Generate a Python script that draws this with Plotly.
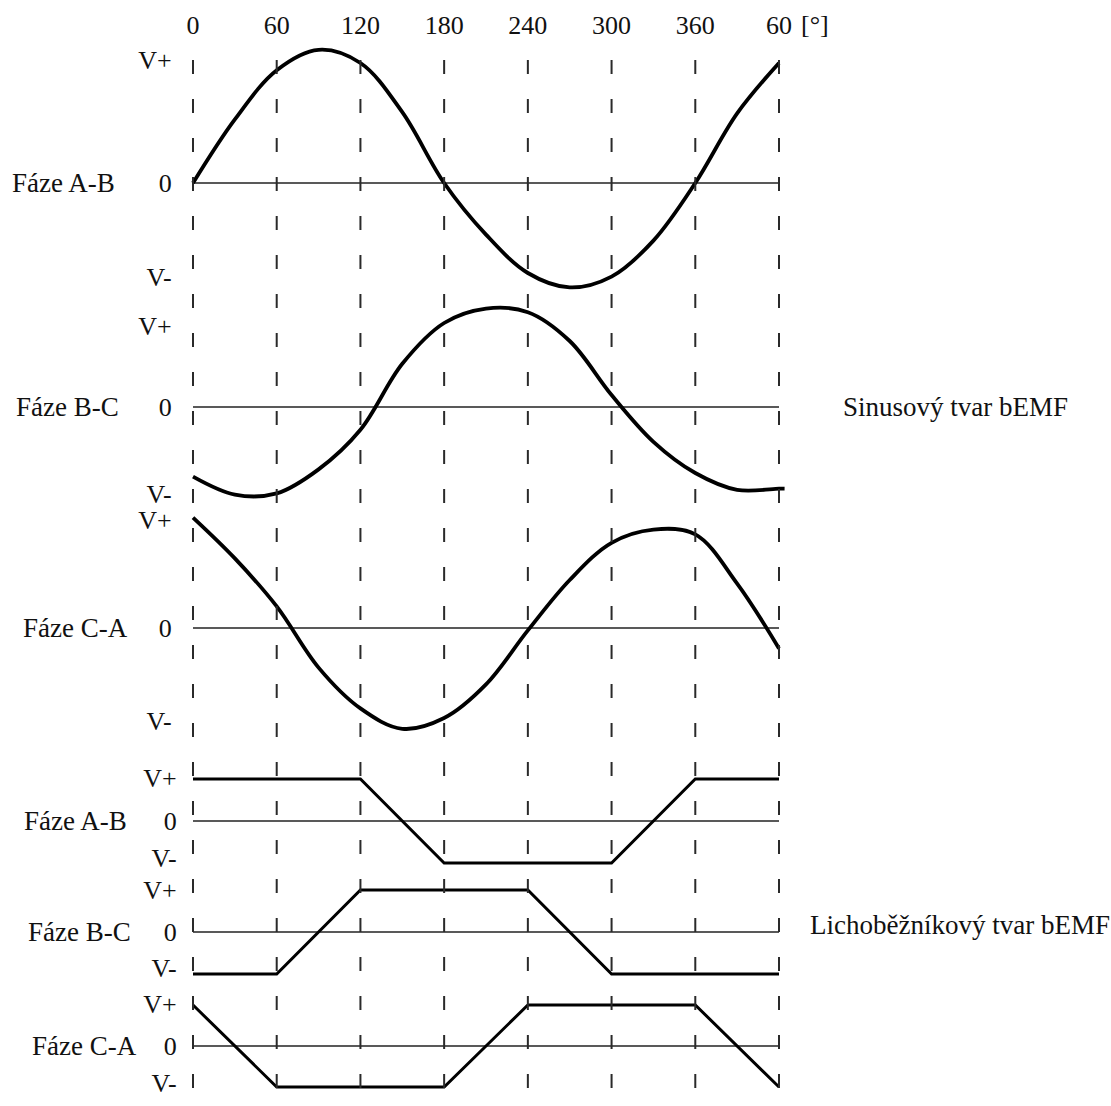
import plotly.graph_objects as go

# ---- data -------------------------------------------------------------
# electrical angle of each sample [deg]; the sweep runs over one turn plus 60 deg
ANGLE = [0, 30, 60, 90, 120, 150, 180, 210, 240, 270, 300, 330, 360, 390, 420]

# sinusoidal back-EMF, line-to-line (relative amplitude)
SIN_AB = [0.0, 0.53, 0.94, 1.11, 1.0, 0.59, 0.0, -0.43, -0.75, -0.87, -0.78, -0.48, 0.0, 0.58, 1.0]
SIN_BC = [-0.58, -0.73, -0.72, -0.52, -0.19, 0.36, 0.70, 0.82, 0.79, 0.55, 0.10, -0.29, -0.55, -0.69, -0.68]
SIN_CA = [0.92, 0.58, 0.18, -0.33, -0.67, -0.84, -0.75, -0.47, -0.02, 0.40, 0.71, 0.82, 0.78, 0.37, -0.17]
BC_TAIL_ANGLE = 424
BC_TAIL_VALUE = -0.68

# trapezoidal back-EMF: corner angles and levels (+1 = V+, -1 = V-)
TRAP_AB_ANGLE = [0, 120, 180, 300, 360, 420]
TRAP_AB = [1, 1, -1, -1, 1, 1]
TRAP_BC_ANGLE = [0, 60, 120, 240, 300, 420]
TRAP_BC = [-1, -1, 1, 1, -1, -1]
TRAP_CA_ANGLE = [0, 60, 180, 240, 360, 420]
TRAP_CA = [1, -1, -1, 1, 1, -1]

GRID_ANGLES = [0, 60, 120, 180, 240, 300, 360, 420]
GRID_LABELS = ["0", "60", "120", "180", "240", "300", "360", "60"]
PHASES = ["Fáze A-B", "Fáze B-C", "Fáze C-A"]

# ---- layout geometry ----------------------------------------------------
W, H = 1111, 1106
TOP = 40                       # top margin (angle labels live here)
X0_PX, X420_PX = 193, 779      # pixel columns of 0 deg and 420 deg
PX_PER_DEG = (X420_PX - X0_PX) / 420.0


def deg(px):
    return (px - X0_PX) / PX_PER_DEG


def yrange(base_px, k):
    # vertical range so that value 0 lies on pixel row base_px, k px per unit
    return [-(H - base_px) / k, (base_px - TOP) / k]


SERIF = "Liberation Serif, Times New Roman, serif"
INK = "#111111"

# panel: (axis id, baseline pixel, px per unit, V+ level, V- level, label centre px, tick axis pos)
panels = [
    ("y",  183, 120, 1.03, -0.78, 63, 0.1545),
    ("y2", 407, 120, 0.68, -0.72, 67, 0.1545),
    ("y3", 628, 120, 0.90, -0.77, 75, 0.1545),
    ("y4", 821, 42, 1.02, -0.88, 75, 0.1590),
    ("y5", 932, 42, 1.00, -0.86, 79, 0.1590),
    ("y6", 1046, 41, 1.02, -0.90, 84, 0.1590),
]

fig = go.Figure()

sine_series = [
    (ANGLE, SIN_AB),
    (ANGLE + [BC_TAIL_ANGLE], SIN_BC + [BC_TAIL_VALUE]),
    (ANGLE, SIN_CA),
]
trap_series = [
    (TRAP_AB_ANGLE, TRAP_AB),
    (TRAP_BC_ANGLE, TRAP_BC),
    (TRAP_CA_ANGLE, TRAP_CA),
]

# zero reference lines
for ax, *_ in panels:
    fig.add_trace(go.Scatter(x=[0, 420], y=[0, 0], mode="lines", yaxis=ax,
                             line=dict(color="#222222", width=1.6),
                             hoverinfo="skip", showlegend=False))

for (ax, *_), (xs, ys) in zip(panels[:3], sine_series):
    fig.add_trace(go.Scatter(x=xs, y=ys, mode="lines", yaxis=ax,
                             line=dict(color="black", width=3.8, shape="spline", smoothing=1.0),
                             showlegend=False))

for (ax, *_), (xs, ys) in zip(panels[3:], trap_series):
    fig.add_trace(go.Scatter(x=xs, y=ys, mode="lines", yaxis=ax,
                             line=dict(color="black", width=3),
                             showlegend=False))

# dashed guides at every 60 deg
for a in GRID_ANGLES:
    fig.add_shape(type="line", xref="x", yref="paper", x0=a, x1=a,
                  y0=(H - 60) / (H - TOP), y1=0,
                  line=dict(color="#2a2a2a", width=2, dash="14px,25px"))

layout_axes = {}
for i, (ax, base, k, vp, vm, lab_px, pos) in enumerate(panels):
    name = "yaxis" if ax == "y" else "yaxis" + ax[1:]
    spec = dict(domain=[0, 1], range=yrange(base, k), anchor="free", position=pos,
                showgrid=False, zeroline=False, showline=False, ticks="",
                tickvals=[vp, 0, vm], ticktext=["V+", "0", "V-"],
                tickfont=dict(family=SERIF, size=26, color=INK), fixedrange=True)
    if ax != "y":
        spec["overlaying"] = "y"
    layout_axes[name] = spec
    fig.add_annotation(x=deg(lab_px), y=0, xref="x", yref=ax, text=PHASES[i % 3],
                       showarrow=False, xanchor="center", yanchor="middle",
                       font=dict(family=SERIF, size=27, color=INK))

fig.add_annotation(x=deg(955), y=0, xref="x", yref="y2", text="Sinusový tvar bEMF",
                   showarrow=False, xanchor="center", yanchor="middle",
                   font=dict(family=SERIF, size=27, color=INK))
fig.add_annotation(x=deg(960), y=0.17, xref="x", yref="y5", text="Lichoběžníkový tvar bEMF",
                   showarrow=False, xanchor="center", yanchor="middle",
                   font=dict(family=SERIF, size=27, color=INK))
fig.add_annotation(x=deg(815), y=1 + (TOP - 25) / (H - TOP), xref="x", yref="paper",
                   text="[°]", showarrow=False, xanchor="center", yanchor="middle",
                   font=dict(family=SERIF, size=26, color=INK))

fig.update_layout(
    width=W, height=H,
    margin=dict(l=0, r=0, t=TOP, b=0),
    paper_bgcolor="white", plot_bgcolor="white",
    xaxis=dict(range=[deg(0), deg(W)], side="top", showgrid=False, zeroline=False,
               showline=False, ticks="", tickvals=GRID_ANGLES, ticktext=GRID_LABELS,
               tickfont=dict(family=SERIF, size=26, color=INK), fixedrange=True),
    **layout_axes,
)

fig.write_html("out.html")
